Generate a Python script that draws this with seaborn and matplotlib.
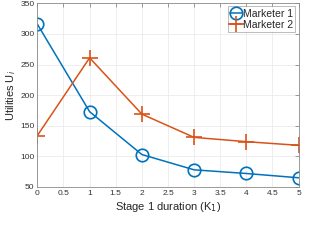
import matplotlib
matplotlib.use("Agg")
import matplotlib.pyplot as plt
import seaborn as sns
import pandas as pd

stage1 = [0, 1, 2, 3, 4, 5]
marketer1 = [316, 173, 103, 78, 72, 65]
marketer2 = [134, 261, 169, 131, 124, 118]
xticks = [0, 0.5, 1, 1.5, 2, 2.5, 3, 3.5, 4, 4.5, 5]
yticks = [50, 100, 150, 200, 250, 300, 350]

sns.set_style("white")
plt.rcParams['font.family'] = ['Liberation Sans', 'DejaVu Sans']

df1 = pd.DataFrame({"K1": stage1, "U": marketer1})
df2 = pd.DataFrame({"K1": stage1, "U": marketer2})

fig = plt.figure(figsize=(3.14, 2.4), dpi=100)
ax = fig.add_axes([0.119, 0.221, 0.832, 0.765])
sns.lineplot(data=df1, x="K1", y="U", ax=ax, color="#0072BD", linewidth=1.1,
             marker="o", markersize=9, markerfacecolor="none",
             markeredgecolor="#0072BD", markeredgewidth=1.2, label="Marketer 1")
sns.lineplot(data=df2, x="K1", y="U", ax=ax, color="#D95319", linewidth=1.1,
             marker="+", markersize=11, markeredgecolor="#D95319",
             markeredgewidth=1.2, label="Marketer 2")

ax.set_xlim(0, 5)
ax.set_ylim(50, 350)
ax.set_xticks(xticks)
ax.set_xticklabels([f"{t:g}" for t in xticks])
ax.set_yticks(yticks)
ax.grid(True, color="#ebebeb", linewidth=0.6)
ax.set_axisbelow(True)
ax.tick_params(direction="in", length=3, width=0.6, labelsize=6, colors="#8a8a8a",
               labelcolor="#333333", top=True, right=True, pad=2)
for s in ax.spines.values():
    s.set_color("#8a8a8a")
    s.set_linewidth(0.6)
ax.set_xlabel("Stage 1 duration (K$_1$)", fontsize=8, color="#262626", labelpad=2)
ax.set_ylabel("Utilities U$_i$", fontsize=8, color="#262626", labelpad=2)

leg = ax.legend(loc="upper right", fontsize=7.5, frameon=True, fancybox=False,
                borderpad=0.2, handlelength=1.2, handletextpad=0.1,
                labelspacing=0.1, borderaxespad=0.3)
leg.get_frame().set_edgecolor("#8a8a8a")
leg.get_frame().set_linewidth(0.5)

fig.savefig("out.png", dpi=100)
